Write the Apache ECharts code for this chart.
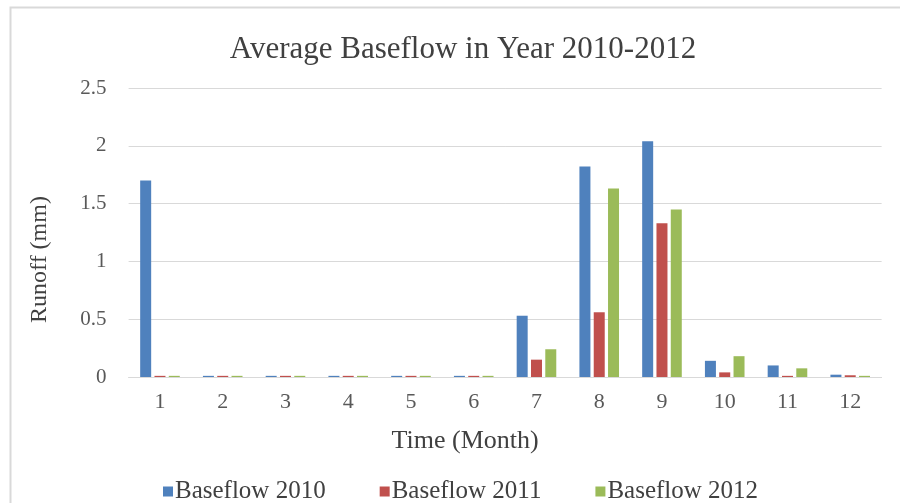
<!DOCTYPE html>
<html>
<head>
<meta charset="utf-8">
<script src="https://cdn.jsdelivr.net/npm/echarts@6/dist/echarts.min.js"></script>
<style>
  html, body { margin: 0; padding: 0; background: #ffffff; }
  #chart { width: 900px; height: 503px; }
</style>
</head>
<body>
<div id="chart"></div>
<script>
// Monthly average baseflow (mm), 2010-2012
const months = ['1', '2', '3', '4', '5', '6', '7', '8', '9', '10', '11', '12'];
const baseflow2010 = [1.70, 0.01, 0.01, 0.01, 0.01, 0.01, 0.53, 1.82, 2.04, 0.14, 0.10, 0.02];
const baseflow2011 = [0.01, 0.01, 0.01, 0.01, 0.01, 0.01, 0.15, 0.56, 1.33, 0.04, 0.01, 0.015];
const baseflow2012 = [0.01, 0.01, 0.01, 0.01, 0.01, 0.01, 0.24, 1.63, 1.45, 0.18, 0.075, 0.01];
const seriesNames = ['Baseflow 2010', 'Baseflow 2011', 'Baseflow 2012'];
const yTicks = [0, 0.5, 1, 1.5, 2, 2.5];

const serif = '"Liberation Serif", "Times New Roman", serif';
const textGray = '#595959';
const colors = ['#4F81BD', '#C0504D', '#9BBB59'];

const chart = echarts.init(document.getElementById('chart'), null, { renderer: 'canvas' });

const makeBar = (name, data) => ({
  name: name,
  type: 'bar',
  data: data,
  barWidth: 11,
  barGap: '30%'
});

chart.setOption({
  animation: false,
  color: colors,
  textStyle: { fontFamily: serif },
  graphic: [{
    type: 'polyline',
    shape: { points: [[900, 7.5], [10.5, 7.5], [10.5, 503]] },
    style: { stroke: '#d9d9d9', lineWidth: 2, fill: null },
    silent: true
  }],
  title: {
    text: 'Average Baseflow in Year 2010-2012',
    left: 458,
    textAlign: 'center',
    top: 29,
    textStyle: { fontFamily: serif, fontWeight: 'normal', fontSize: 31, color: '#404040' }
  },
  legend: {
    data: seriesNames,
    left: 158,
    top: 474,
    itemWidth: 10,
    itemHeight: 10,
    itemGap: 54,
    icon: 'rect',
    textStyle: { fontFamily: serif, fontSize: 25, color: '#404040', padding: [0, 0, 0, -3] }
  },
  grid: { left: 128.6, right: 18.4, top: 88, bottom: 126 },
  xAxis: {
    type: 'category',
    data: months,
    name: 'Time (Month)',
    nameLocation: 'middle',
    nameGap: 51,
    nameTextStyle: {
      fontFamily: serif, fontSize: 26, color: '#404040', verticalAlign: 'top',
      padding: [0, 80, 0, 0]
    },
    axisLine: { lineStyle: { color: '#d9d9d9', width: 1 } },
    axisTick: { show: false },
    axisLabel: { fontFamily: serif, fontSize: 22, color: textGray, margin: 14 }
  },
  yAxis: {
    type: 'value',
    min: yTicks[0],
    max: yTicks[yTicks.length - 1],
    interval: 0.5,
    name: 'Runoff (mm)',
    nameLocation: 'middle',
    nameRotate: 90,
    nameGap: 77,
    nameTextStyle: { fontFamily: serif, fontSize: 24, color: '#404040', padding: [0, 54, 0, 0] },
    axisLine: { show: false },
    axisTick: { show: false },
    splitLine: { lineStyle: { color: '#d9d9d9', width: 1 } },
    axisLabel: { fontFamily: serif, fontSize: 21, color: textGray, margin: 22 }
  },
  series: [
    makeBar(seriesNames[0], baseflow2010),
    makeBar(seriesNames[1], baseflow2011),
    makeBar(seriesNames[2], baseflow2012)
  ]
});
</script>
</body>
</html>
